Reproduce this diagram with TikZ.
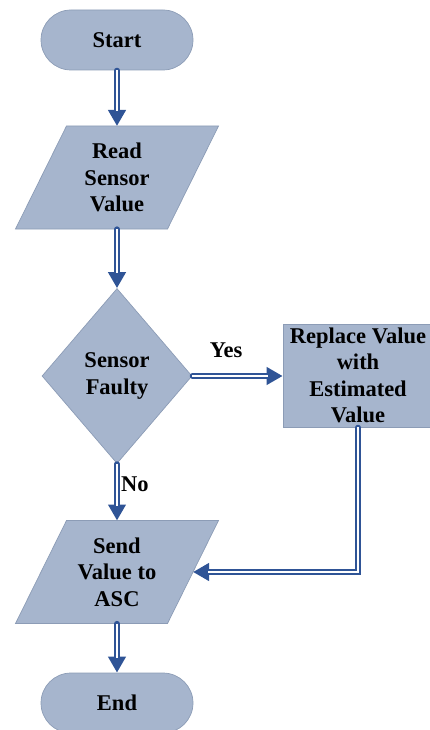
\documentclass[tikz,border=0pt]{standalone}
\usepackage{fontspec}
\setmainfont{Liberation Serif}[BoldFont={Liberation Serif Bold}]
\usetikzlibrary{shapes.geometric,arrows.meta,calc}

\definecolor{boxfill}{RGB}{166,181,205}
\definecolor{boxline}{RGB}{140,156,182}
\definecolor{flowblue}{RGB}{47,84,150}

\tikzset{
  txt/.style={font=\fontsize{22.5}{26.5}\selectfont\bfseries, align=center, text=black},
  shapebox/.style={txt, fill=boxfill, draw=boxline, line width=0.7pt, inner sep=0pt},
  outline/.style={fill=boxfill, draw=boxline, line width=0.7pt, line join=miter},
  terminal/.style={shapebox, rectangle, rounded corners=30pt, minimum width=152pt, minimum height=60pt},
  decision/.style={shapebox, diamond, minimum width=150pt, minimum height=175pt},
  process/.style={shapebox, rectangle, minimum width=150pt, minimum height=103pt},
  % hollow double-line connector with a solid triangular head
  pipe/.style={draw=flowblue, line width=5.2pt, line cap=round,
    -{Triangle[length=16pt,width=17pt]},
    postaction={draw=white, line width=2pt, line cap=butt, -, shorten >=15pt}},
  lbl/.style={txt, inner sep=0pt}
}

% input/output parallelogram: 103pt high, 152pt wide sides, leaning right
\newcommand{\ioshape}[3]{%
  \path[outline] ($(#1)+(-101.5,51.5)$) -- ($(#1)+(50.5,51.5)$)
    -- ($(#1)+(101.5,-51.5)$) -- ($(#1)+(-50.5,-51.5)$) -- cycle;
  \node[txt, inner sep=0pt] (#2) at (#1) {#3};
  \coordinate (#2-top) at ($(#1)+(0,-51.5)$);
  \coordinate (#2-bot) at ($(#1)+(0,51.5)$);
  \coordinate (#2-right) at ($(#1)+(76,0)$);
}

\begin{document}
\begin{tikzpicture}[x=1pt,y=-1pt]
  \useasboundingbox (0,0) rectangle (430,730);

  \node[terminal] (start) at (117,40) {Start};
  \ioshape{117,177.5}{read}{Read\\Sensor\\Value}
  \node[decision] (dia) at (117,376) {Sensor\\Faulty};
  \node[process] (rep) at (358,375.5) {Replace Value\\with\\Estimated\\Value};
  \ioshape{117,572}{send}{Send\\Value to\\ASC}
  \node[terminal] (fin) at (117,703) {End};

  \draw[pipe] (start.south) -- (read-top);
  \draw[pipe] (read-bot) -- (dia.north);
  \draw[pipe] (dia.east) -- (dia.east -| rep.west);
  \draw[pipe] (dia.south) -- (send-top);
  \draw[pipe] (rep.south) |- (send-right);
  \draw[pipe] (send-bot) -- (fin.north);

  \node[lbl] (yes) at (226,350) {Yes};
  \node[lbl, anchor=west] (no) at (121,484) {No};
\end{tikzpicture}
\end{document}
